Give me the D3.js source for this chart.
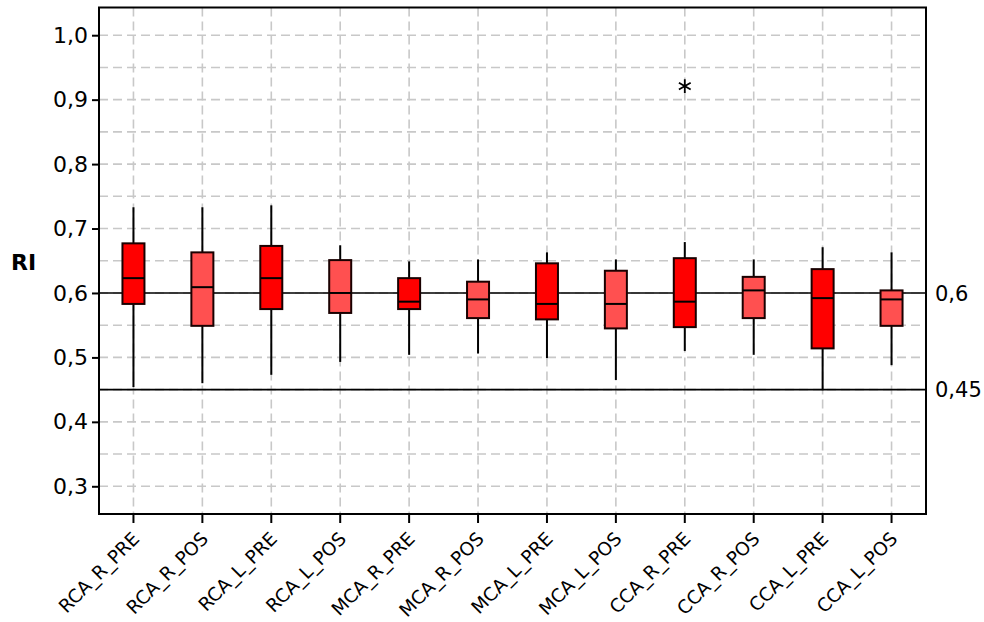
<!DOCTYPE html>
<html>
<head>
<meta charset="utf-8">
<script src="https://cdn.jsdelivr.net/npm/d3@7"></script>
<style>
  html, body { margin: 0; padding: 0; background: #fff; }
  svg { display: block; font-family: "DejaVu Sans", Verdana, sans-serif; }
</style>
</head>
<body>
<svg id="chart" width="984" height="622"></svg>
<script>
// data
const categories = ['RCA_R_PRE', 'RCA_R_POS', 'RCA_L_PRE', 'RCA_L_POS', 'MCA_R_PRE', 'MCA_R_POS',
    'MCA_L_PRE', 'MCA_L_POS', 'CCA_R_PRE', 'CCA_R_POS', 'CCA_L_PRE', 'CCA_L_POS'];
const whiskerHigh = [0.733, 0.733, 0.736, 0.674, 0.649, 0.652, 0.663, 0.652, 0.679, 0.652, 0.671, 0.663];
const q3 = [0.677, 0.663, 0.673, 0.651, 0.623, 0.6175, 0.646, 0.6345, 0.654, 0.625, 0.637, 0.604];
const medians = [0.623, 0.609, 0.623, 0.600, 0.5865, 0.590, 0.583, 0.583, 0.5865, 0.604, 0.592, 0.590];
const q1 = [0.583, 0.549, 0.575, 0.569, 0.575, 0.561, 0.559, 0.545, 0.547, 0.561, 0.514, 0.549];
const whiskerLow = [0.454, 0.460, 0.473, 0.493, 0.504, 0.506, 0.499, 0.465, 0.510, 0.504, 0.449, 0.488];
const outlierCats = ['CCA_R_PRE'];
const outlierValues = [0.921];
const yTicks = [0.3, 0.4, 0.5, 0.6, 0.7, 0.8, 0.9, 1.0];
const yGrid = [0.3, 0.35, 0.4, 0.45, 0.5, 0.55, 0.6, 0.65, 0.7, 0.75, 0.8, 0.85, 0.9, 0.95, 1.0];
const refLines = [0.6, 0.45];
const refLabels = ['0,6', '0,45'];

const boxes = categories.map((c, i) => ({
    cat: c, lo: whiskerLow[i], q1: q1[i], med: medians[i], q3: q3[i], hi: whiskerHigh[i]
}));

const margin = { left: 99, right: 58, top: 7.5, bottom: 108 };
const width = 984, height = 622;
const svg = d3.select('#chart');

const x = d3.scaleBand().domain(categories).range([margin.left, width - margin.right]).padding(0);
const y = d3.scaleLinear().domain([0.257, 1.043]).range([height - margin.bottom, margin.top]);
const fmt = d => d3.format('.1f')(d).replace('.', ',');
const boxW = 22;

// grid
const grid = svg.append('g').attr('stroke', '#c8c8c8').attr('stroke-width', 1.6)
    .attr('stroke-dasharray', '9,5');
grid.selectAll('.hg').data(yGrid).join('line')
    .attr('x1', margin.left).attr('x2', width - margin.right)
    .attr('y1', d => y(d)).attr('y2', d => y(d));
grid.selectAll('.vg').data(categories).join('line')
    .attr('x1', d => x(d) + x.bandwidth() / 2).attr('x2', d => x(d) + x.bandwidth() / 2)
    .attr('y1', margin.top).attr('y2', height - margin.bottom);

// reference lines
svg.selectAll('.ref').data(refLines).join('line')
    .attr('x1', margin.left).attr('x2', width - margin.right)
    .attr('y1', d => y(d)).attr('y2', d => y(d))
    .attr('stroke', '#000').attr('stroke-width', 1.6);
svg.selectAll('.refLabel').data(refLines).join('text')
    .attr('x', width - margin.right + 9).attr('y', d => y(d))
    .attr('dy', '0.36em').attr('font-size', 21)
    .text((d, i) => refLabels[i]);

// boxes
const g = svg.selectAll('.box').data(boxes).join('g')
    .attr('transform', d => `translate(${x(d.cat) + x.bandwidth() / 2},0)`);
g.append('line')
    .attr('y1', d => y(d.hi)).attr('y2', d => y(d.lo))
    .attr('stroke', '#000').attr('stroke-width', 2);
g.append('rect')
    .attr('x', -boxW / 2).attr('width', boxW)
    .attr('y', d => y(d.q3)).attr('height', d => y(d.q1) - y(d.q3))
    .attr('fill', d => d.cat.endsWith('PRE') ? '#ff0000' : '#ff5050')
    .attr('stroke', '#1a0000').attr('stroke-width', 2);
g.append('line')
    .attr('x1', -boxW / 2).attr('x2', boxW / 2)
    .attr('y1', d => y(d.med)).attr('y2', d => y(d.med))
    .attr('stroke', '#000').attr('stroke-width', 2);

// outliers
svg.selectAll('.outlier').data(outlierValues).join('path')
    .attr('transform', (d, i) => `translate(${x(outlierCats[i]) + x.bandwidth() / 2},${y(d)})`)
    .attr('d', d3.symbol(d3.symbolAsterisk, 130))
    .attr('fill', 'none').attr('stroke', '#000').attr('stroke-width', 1.8);

// frame
svg.append('rect')
    .attr('x', margin.left).attr('y', margin.top)
    .attr('width', width - margin.left - margin.right)
    .attr('height', height - margin.top - margin.bottom)
    .attr('fill', 'none').attr('stroke', '#000').attr('stroke-width', 2);

// axes
const yAxis = svg.append('g').attr('transform', `translate(${margin.left},0)`)
    .call(d3.axisLeft(y).tickValues(yTicks).tickFormat(fmt).tickSize(7).tickPadding(4));
yAxis.select('.domain').remove();
yAxis.selectAll('line').attr('stroke-width', 2);
yAxis.selectAll('text').attr('font-size', 22).attr('font-family', 'DejaVu Sans').attr('fill', '#000');

const xAxis = svg.append('g').attr('transform', `translate(0,${height - margin.bottom})`)
    .call(d3.axisBottom(x).tickSize(9));
xAxis.select('.domain').remove();
xAxis.selectAll('line').attr('stroke-width', 2);
xAxis.selectAll('text')
    .attr('font-size', 18.5).attr('font-family', 'DejaVu Sans').attr('fill', '#000')
    .attr('text-anchor', 'end')
    .attr('x', 0).attr('y', 0).attr('dy', 0)
    .attr('transform', 'translate(7,26) rotate(-45)');

// axis title
svg.append('text')
    .attr('x', 11).attr('y', 270)
    .attr('font-size', 22).attr('font-weight', 'bold')
    .text('RI');
</script>
</body>
</html>
